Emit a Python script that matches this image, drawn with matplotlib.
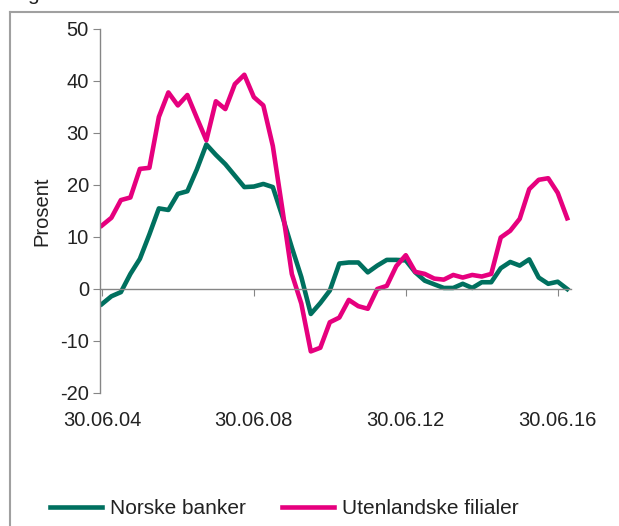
import matplotlib
matplotlib.use('Agg')
import matplotlib.pyplot as plt
from matplotlib.lines import Line2D

plt.rcParams['font.family'] = ['Liberation Sans', 'DejaVu Sans']
plt.rcParams['axes.unicode_minus'] = False

# quarterly growth, 30.06.04 - 30.09.16
quarters = list(range(50))
tick_pos = [0, 16, 32, 48]
tick_labels = ['30.06.04', '30.06.08', '30.06.12', '30.06.16']

norske_banker = [-2.9, -1.4, -0.6, 2.9, 5.8, 10.5, 15.5, 15.2, 18.3, 18.8,
                 23.0, 27.8, 25.8, 24.0, 21.8, 19.6, 19.7, 20.2, 19.6, 14.0,
                 8.0, 2.3, -4.8, -2.7, -0.3, 4.9, 5.1, 5.1, 3.2, 4.5,
                 5.6, 5.6, 5.5, 3.2, 1.6, 0.9, 0.2, 0.2, 1.0, 0.2,
                 1.3, 1.3, 4.0, 5.2, 4.5, 5.7, 2.2, 1.0, 1.4, 0.0]
utenlandske_filialer = [12.2, 13.7, 17.1, 17.6, 23.1, 23.3, 33.1, 37.8, 35.3, 37.3,
                        32.9, 28.6, 36.1, 34.6, 39.4, 41.2, 36.9, 35.3, 27.5, 15.4,
                        2.9, -2.8, -12.0, -11.3, -6.4, -5.5, -2.1, -3.3, -3.8, 0.0,
                        0.6, 4.4, 6.5, 3.3, 2.9, 2.0, 1.8, 2.7, 2.2, 2.7,
                        2.4, 2.9, 9.9, 11.2, 13.5, 19.2, 21.0, 21.3, 18.5, 13.6]

green = '#00705f'
pink = '#e6007e'
grey = '#868686'

fig = plt.figure(figsize=(6.19, 5.26), dpi=100)
ax = fig.add_axes([100 / 619, 1 - 393 / 526, 471 / 619, 364 / 526])

ax.plot(quarters, norske_banker, color=green, lw=3.3, solid_joinstyle='round', label='Norske banker')
ax.plot(quarters, utenlandske_filialer, color=pink, lw=3.3, solid_joinstyle='round', label='Utenlandske filialer')

ax.set_xlim(-0.2, 49.4)
ax.set_ylim(-20, 50)
ax.set_yticks(range(-20, 51, 10))

ax.spines['top'].set_visible(False)
ax.spines['right'].set_visible(False)
ax.spines['bottom'].set_position(('data', 0))
for s in ['left', 'bottom']:
    ax.spines[s].set_color(grey)
    ax.spines[s].set_linewidth(1)

ax.set_xticks(tick_pos)
ax.set_xticklabels(tick_labels)
ax.tick_params(axis='x', direction='out', length=5, color=grey, pad=83, labelsize=14.5, labelcolor='#222222')
ax.tick_params(axis='y', direction='out', length=5, color=grey, pad=3, labelsize=14.5, labelcolor='#222222')
ax.set_ylabel('Prosent', fontsize=14.5, color='#222222', labelpad=6)

fig.legend(loc='center left', bbox_to_anchor=(50 / 619, 1 - 509 / 526), ncol=2, frameon=False,
           fontsize=15, handlelength=2.5, handletextpad=0.4, columnspacing=1.7, borderpad=0,
           borderaxespad=0, labelcolor='#222222')

# outer frame of the figure panel (cut off at right and bottom)
fig.add_artist(Line2D([10 / 619, 10 / 619], [0, 1 - 12 / 526], color='#a0a0a0', lw=1.5))
fig.add_artist(Line2D([10 / 619, 1], [1 - 12 / 526, 1 - 12 / 526], color='#a0a0a0', lw=1.5))
# tail of a title letter cut off at the top edge, as in the source image
fig.text(27 / 619, 1 + 0.5 / 526, 'g', fontsize=15, va='baseline', color='#222222')

fig.savefig('out.png', dpi=100)
